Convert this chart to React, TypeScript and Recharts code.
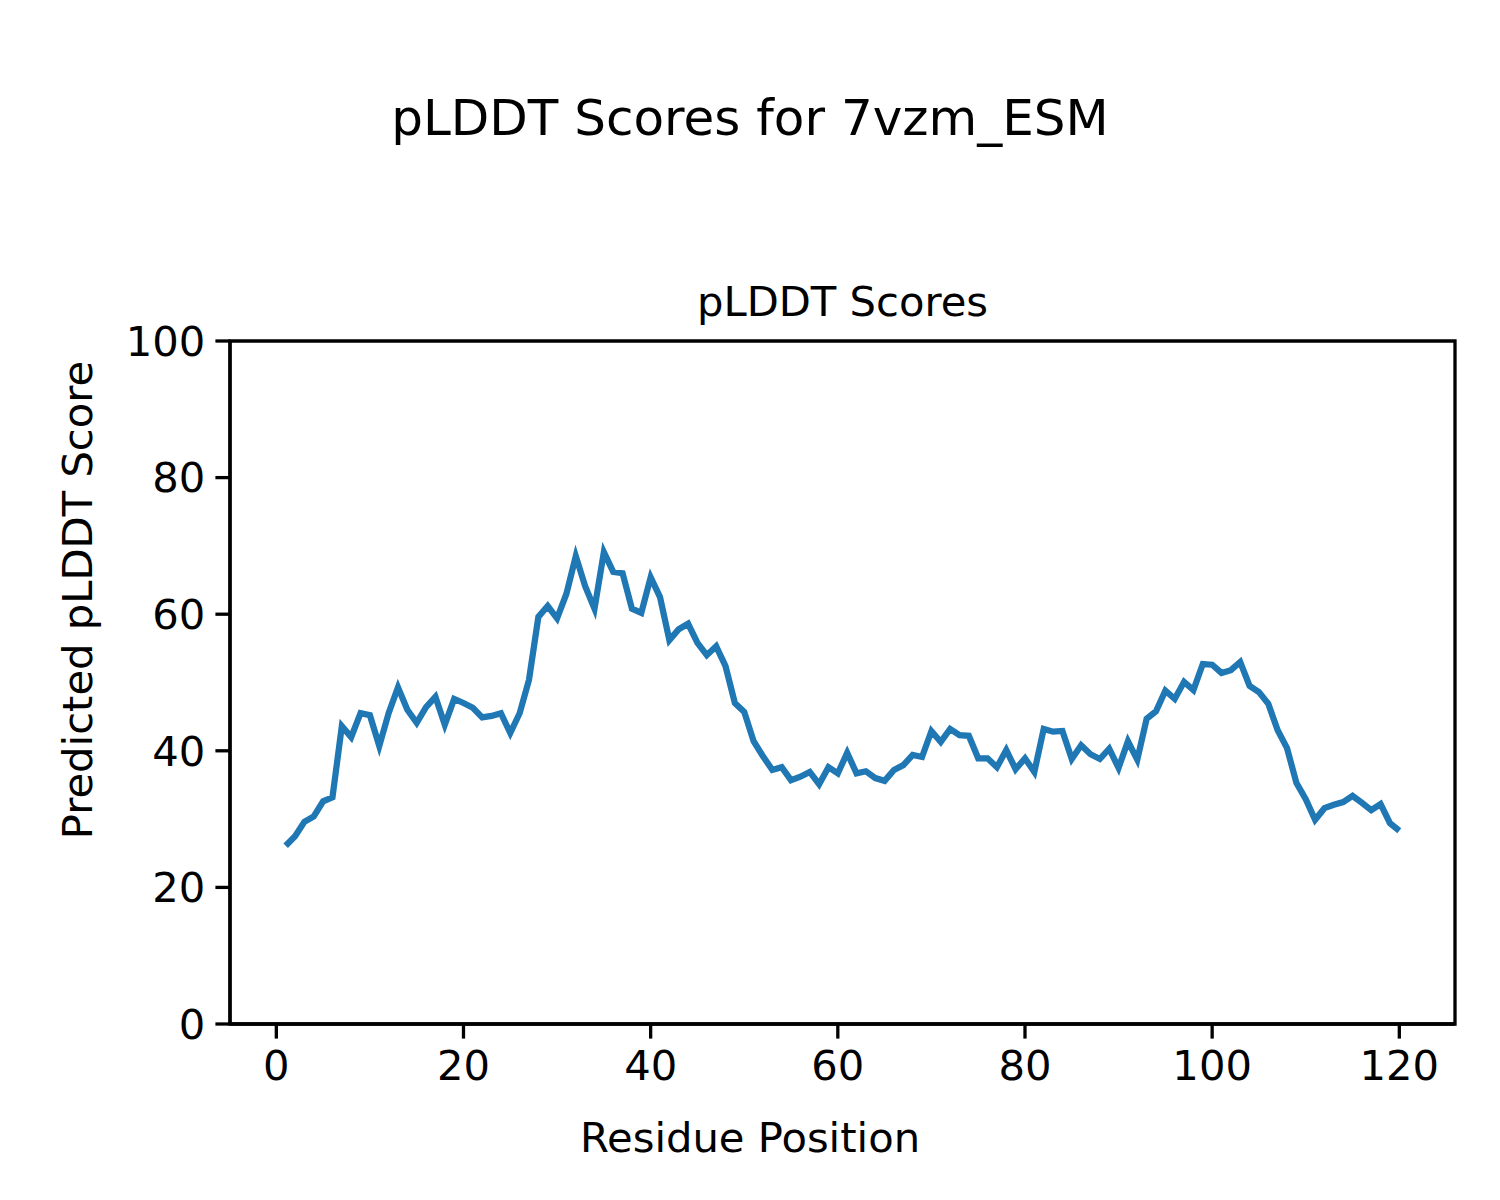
import { LineChart, Line, XAxis, YAxis, ReferenceArea } from "recharts"

// residue positions 1..120 and predicted pLDDT per residue
const residues = Array.from({ length: 120 }, (_, i) => i + 1)

const plddt = [
  26.1, 27.5, 29.6, 30.4, 32.6, 33.2, 43.6, 42.0, 45.5, 45.2,
  40.7, 45.5, 49.3, 46.0, 44.1, 46.4, 47.9, 43.8, 47.6, 47.0,
  46.3, 44.9, 45.1, 45.5, 42.6, 45.5, 50.4, 59.6, 61.2, 59.4,
  63.0, 68.5, 64.1, 60.8, 69.1, 66.2, 66.0, 60.8, 60.2, 65.4,
  62.5, 56.2, 57.8, 58.6, 55.8, 54.0, 55.3, 52.4, 47.0, 45.7,
  41.4, 39.2, 37.2, 37.6, 35.7, 36.2, 36.9, 35.1, 37.6, 36.7,
  39.7, 36.7, 37.0, 36.0, 35.6, 37.2, 37.9, 39.4, 39.1, 42.9,
  41.3, 43.2, 42.3, 42.2, 38.9, 38.9, 37.6, 40.1, 37.3, 38.9,
  36.9, 43.2, 42.8, 42.9, 38.8, 40.8, 39.5, 38.8, 40.3, 37.5,
  41.4, 38.7, 44.7, 45.8, 48.8, 47.6, 50.1, 48.9, 52.7, 52.6,
  51.4, 51.8, 53.0, 49.5, 48.6, 46.9, 43.0, 40.4, 35.3, 32.9,
  29.9, 31.6, 32.1, 32.5, 33.4, 32.4, 31.3, 32.2, 29.4, 28.3,
]

const xTicks = [0, 20, 40, 60, 80, 100, 120]
const yTicks = [0, 20, 40, 60, 80, 100]

const data = residues.map((r, i) => ({ pos: r, score: plddt[i] }))

const font = "'DejaVu Sans', sans-serif"

export default function App() {
  return (
    <div
      style={{
        position: "absolute",
        left: 0,
        top: 0,
        width: 1500,
        height: 1200,
        background: "#fff",
        fontFamily: font,
      }}
    >
      <LineChart
        width={1500}
        height={1200}
        data={data}
        margin={{ top: 341, right: 45, left: 0, bottom: 0 }}
      >
        <XAxis
          dataKey="pos"
          type="number"
          domain={[-4.95, 125.95]}
          ticks={xTicks}
          allowDataOverflow
          height={176}
          tickSize={14.6}
          tickMargin={12}
          stroke="#000"
          strokeWidth={3.3}
          tick={{ fill: "#000", fontSize: 41.7, fontFamily: font }}
        />
        <YAxis
          type="number"
          domain={[0, 100]}
          ticks={yTicks}
          width={230}
          tickSize={14.6}
          tickMargin={10}
          stroke="#000"
          strokeWidth={3.3}
          tick={{ fill: "#000", fontSize: 41.7, fontFamily: font }}
        />
        <ReferenceArea
          x1={-4.95}
          x2={125.95}
          y1={0}
          y2={100}
          fill="none"
          stroke="#000"
          strokeWidth={3.3}
          ifOverflow="visible"
        />
        <Line
          dataKey="score"
          stroke="#1f77b4"
          strokeWidth={6.25}
          dot={false}
          isAnimationActive={false}
        />
      </LineChart>
      <div style={{ position: "absolute", left: 0, width: 1500, top: 88, textAlign: "center", fontSize: 50, lineHeight: "60px" }}>
        pLDDT Scores for 7vzm_ESM
      </div>
      <div style={{ position: "absolute", left: 230, width: 1225, top: 277, textAlign: "center", fontSize: 41.7, lineHeight: "50px" }}>
        pLDDT Scores
      </div>
      <div style={{ position: "absolute", left: 230, width: 1040, top: 1113, textAlign: "center", fontSize: 41.7, lineHeight: "50px" }}>
        Residue Position
      </div>
      <div
        style={{
          position: "absolute",
          left: 78,
          top: 600,
          transform: "translate(-50%, -50%) rotate(-90deg)",
          whiteSpace: "nowrap",
          fontSize: 41.7,
          lineHeight: "50px",
        }}
      >
        Predicted pLDDT Score
      </div>
    </div>
  )
}
